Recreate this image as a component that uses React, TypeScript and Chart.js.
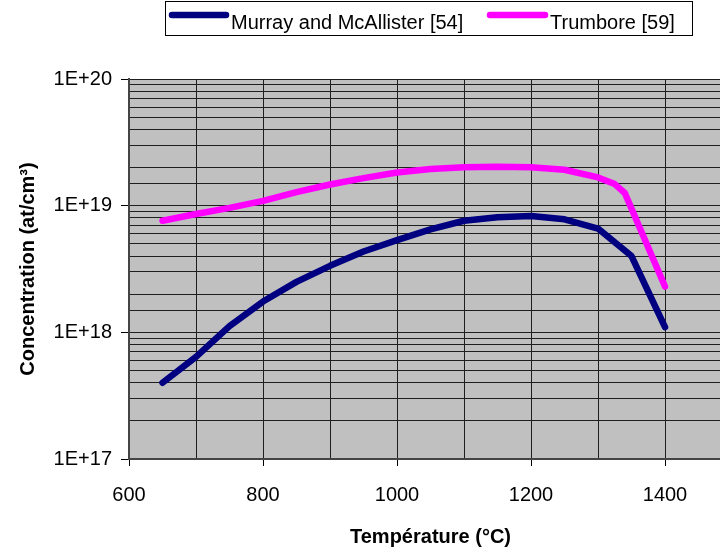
import React, { useEffect, useRef } from "react";
import { Chart, registerables } from "chart.js";

Chart.register(...registerables);

// ---- Data ----
const seriesLabels = ["Murray and McAllister [54]", "Trumbore [59]"];
const seriesColors = ["#000080", "#FF00FF"];

const murrayTemps = [650, 700, 750, 800, 850, 900, 950, 1000, 1050, 1100, 1150, 1200, 1250, 1300, 1350, 1400];
const murrayValues = [4.0e17, 6.4e17, 1.12e18, 1.75e18, 2.5e18, 3.35e18, 4.35e18, 5.35e18, 6.5e18, 7.6e18, 8.1e18, 8.3e18, 7.8e18, 6.6e18, 4.0e18, 1.1e18];

const trumboreTemps = [650, 700, 750, 800, 850, 900, 950, 1000, 1050, 1100, 1150, 1200, 1250, 1300, 1325, 1340, 1400];
const trumboreValues = [7.6e18, 8.6e18, 9.6e18, 1.09e19, 1.28e19, 1.47e19, 1.65e19, 1.83e19, 1.95e19, 2.01e19, 2.03e19, 2.01e19, 1.92e19, 1.67e19, 1.48e19, 1.26e19, 2.3e18];

const xMin = 600;
const xMax = 1500;
const xStep = 100;
const xLabelStep = 200;
const yMin = 1e17;
const yMax = 1e20;

const xTitle = "Température (°C)";
const yTitle = "Concentration (at/cm³)";

const FONT = '"Liberation Sans", Arial, Helvetica, sans-serif';

const isPow10 = (v: number) => {
  const e = Math.log10(v);
  return Math.abs(e - Math.round(e)) < 1e-9;
};

const plotBackground = {
  id: "plotBackground",
  beforeDraw(chart: any) {
    const { ctx, chartArea } = chart;
    ctx.save();
    ctx.fillStyle = "#C0C0C0";
    ctx.fillRect(chartArea.left, chartArea.top, chartArea.right - chartArea.left, chartArea.bottom - chartArea.top);
    ctx.restore();
  },
};

const legendBox = {
  id: "legendBox",
  afterDraw(chart: any) {
    const ctx = chart.ctx;
    ctx.save();
    ctx.fillStyle = "#ffffff";
    ctx.fillRect(165.5, 1.5, 527, 34);
    ctx.strokeStyle = "#000000";
    ctx.lineWidth = 1;
    ctx.strokeRect(165.5, 1.5, 527, 34);
    const items = [
      { x0: 172, x1: 226, tx: 231 },
      { x0: 490, x1: 545, tx: 550 },
    ];
    chart.data.datasets.forEach((ds: any, i: number) => {
      const it = items[i];
      ctx.beginPath();
      ctx.strokeStyle = ds.borderColor;
      ctx.lineWidth = 6.5;
      ctx.lineCap = "round";
      ctx.moveTo(it.x0, 15);
      ctx.lineTo(it.x1, 15);
      ctx.stroke();
      ctx.fillStyle = "#000000";
      ctx.font = `20px ${FONT}`;
      ctx.textBaseline = "alphabetic";
      ctx.textAlign = "left";
      ctx.fillText(ds.label, it.tx, 28.5);
    });
    ctx.restore();
  },
};

export default function App() {
  const canvasRef = useRef<HTMLCanvasElement | null>(null);

  useEffect(() => {
    if (!canvasRef.current) return;
    const chart = new Chart(canvasRef.current, {
      type: "line",
      data: {
        datasets: [
          {
            label: seriesLabels[0],
            data: murrayTemps.map((t, i) => ({ x: t, y: murrayValues[i] })),
            borderColor: seriesColors[0],
            backgroundColor: seriesColors[0],
            borderWidth: 6.5,
            borderCapStyle: "round",
            borderJoinStyle: "round",
            pointRadius: 0,
            tension: 0,
            fill: false,
          },
          {
            label: seriesLabels[1],
            data: trumboreTemps.map((t, i) => ({ x: t, y: trumboreValues[i] })),
            borderColor: seriesColors[1],
            backgroundColor: seriesColors[1],
            borderWidth: 6.5,
            borderCapStyle: "round",
            borderJoinStyle: "round",
            pointRadius: 0,
            tension: 0,
            fill: false,
          },
        ],
      },
      options: {
        animation: false,
        responsive: false,
        maintainAspectRatio: false,
        events: [],
        layout: { padding: { top: 79, right: 28, left: 0, bottom: 0 } },
        plugins: {
          legend: { display: false },
          tooltip: { enabled: false },
          title: { display: false },
        },
        scales: {
          x: {
            type: "linear",
            min: xMin,
            max: xMax,
            afterFit: (s: any) => {
              s.height = 92;
            },
            ticks: {
              stepSize: xStep,
              autoSkip: false,
              maxRotation: 0,
              includeBounds: false,
              padding: 17,
              color: "#000",
              font: { family: FONT, size: 20 },
              callback: (v: any) => (Number(v) % xLabelStep === 0 ? String(v) : ""),
            },
            grid: {
              color: "#1e1e1e",
              lineWidth: 1,
              tickLength: 7,
              tickColor: (c: any) => (c.tick && c.tick.value % xLabelStep === 0 ? "#000" : "rgba(0,0,0,0)"),
            },
            border: { color: "#444", width: 2 },
            title: {
              display: true,
              text: xTitle,
              color: "#000",
              font: { family: FONT, size: 20, weight: "bold" },
              padding: { top: 0, bottom: 2 },
            },
          },
          y: {
            type: "logarithmic",
            min: yMin,
            max: yMax,
            afterFit: (s: any) => {
              s.width = 129;
            },
            ticks: {
              autoSkip: false,
              padding: 9,
              color: "#000",
              font: { family: FONT, size: 20 },
              callback: (v: any) => (isPow10(Number(v)) ? "1E+" + Math.round(Math.log10(Number(v))) : ""),
            },
            grid: {
              color: "#1e1e1e",
              lineWidth: 1,
              tickLength: 8,
              tickColor: (c: any) => (c.tick && isPow10(c.tick.value) ? "#000" : "rgba(0,0,0,0)"),
            },
            border: { color: "#444", width: 2 },
            title: {
              display: true,
              text: yTitle,
              color: "#000",
              font: { family: FONT, size: 20, weight: "bold" },
              padding: { top: 16, bottom: 0 },
            },
          },
        },
      },
      plugins: [plotBackground, legendBox],
    } as any);
    return () => chart.destroy();
  }, []);

  return (
    <div style={{ position: "fixed", left: 0, top: 0, width: 720, height: 551, overflow: "hidden", background: "#fff" }}>
      <canvas ref={canvasRef} width={760} height={551} style={{ display: "block" }} />
    </div>
  );
}
